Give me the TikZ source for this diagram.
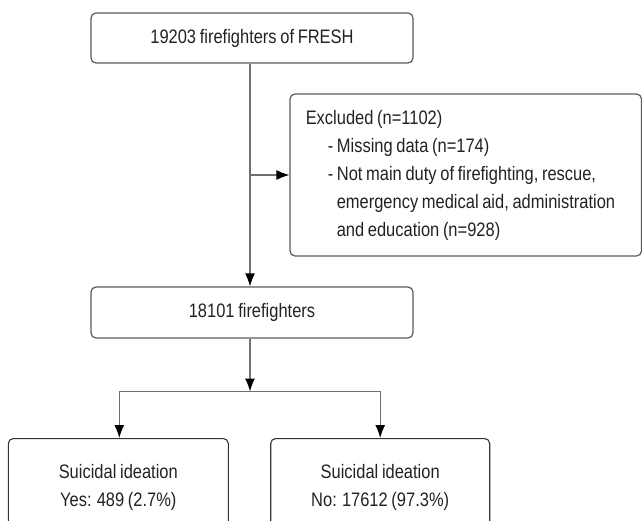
\documentclass[tikz,border=0pt]{standalone}
\usepackage{fontspec}
\setmainfont{Liberation Sans}[FakeStretch=0.845,WordSpace=0.8]
\usetikzlibrary{arrows.meta,calc}
\definecolor{linegray}{HTML}{707070}
\definecolor{boxgray}{HTML}{5A5A5A}
\definecolor{txtgray}{HTML}{222222}
\tikzset{
  box/.style={draw=boxgray, line width=1.2pt, rounded corners=5pt, inner sep=0pt},
  dbox/.style={draw=black!80, line width=1.1pt, rounded corners=5pt, inner sep=0pt},
  txt/.style={text=txtgray, font=\fontsize{19.5}{28}\selectfont, inner sep=0pt},
  conn/.style={draw=linegray, line width=1.2pt},
  arr/.style={conn, -{Latex[length=13pt,width=10pt,color=black]}},
}
\begin{document}
\begin{tikzpicture}[x=1pt,y=1pt]
\clip (0,0) rectangle (642,-521);
% top box
\node[box, txt, minimum width=322pt, minimum height=50pt] (top) at (252,-38) {19203 firefighters of FRESH};
% excluded box
\node[box, txt, minimum width=351.5pt, minimum height=162pt, text width=320pt, align=left, inner xsep=15.5pt] (excl) at (465.75,-175)
 {\spaceskip=0pt\xspaceskip=0pt\relax Excluded (n=1102)\\
  \hspace*{22pt}- Missing data (n=174)\\
  \hspace*{22pt}- Not main duty of firefighting, rescue,\\
  \hspace*{31pt}emergency medical aid, administration\\
  \hspace*{31pt}and education (n=928)};
% middle box
\node[box, txt, minimum width=322pt, minimum height=51pt] (mid) at (252,-312.5) {18101 firefighters};
% bottom boxes
\node[dbox, minimum width=220pt, minimum height=130pt, anchor=north] (yes) at (118.3,-438) {};
\node[txt, align=center] (yestxt) at ($(yes.north)+(0,-49)$) {Suicidal ideation\\Yes: 489 (2.7\%)};
\node[dbox, minimum width=219pt, minimum height=130pt, anchor=north] (no) at (380.2,-438) {};
\node[txt, align=center] (notxt) at ($(no.north)+(0,-49)$) {Suicidal ideation\\No: 17612 (97.3\%)};
% connectors
\coordinate (j) at ([xshift=-2pt]top.south |- excl.west);
\draw[arr] ([xshift=-2pt]top.south) -- ([xshift=-2pt]mid.north);
\draw[arr] (j) -- (excl.west);
\coordinate (split) at ([xshift=-2pt]mid.south |- 0,-391.5);
\draw[arr] ([xshift=-2pt]mid.south) -- (split);
\draw[arr] (split) -| ([xshift=1pt]yes.north);
\draw[arr] (split) -| (no.north);
\end{tikzpicture}
\end{document}
